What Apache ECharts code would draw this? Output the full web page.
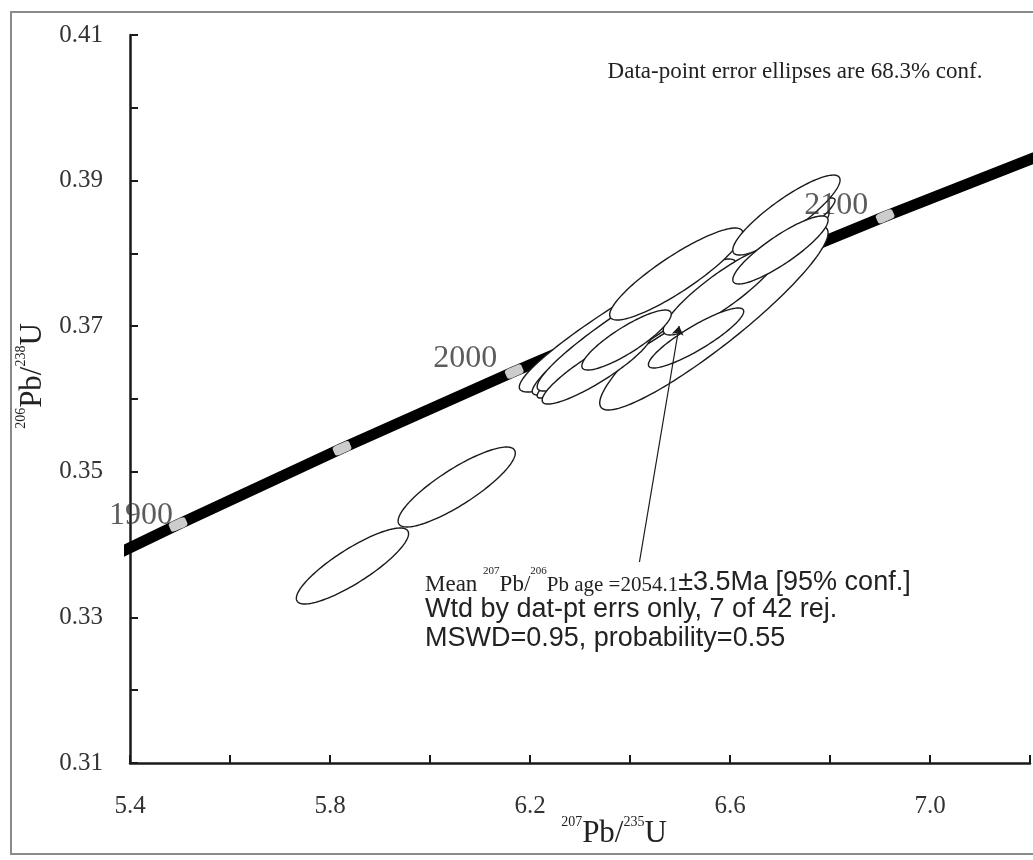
<!DOCTYPE html>
<html>
<head>
<meta charset="utf-8">
<script src="https://cdn.jsdelivr.net/npm/echarts@6/dist/echarts.min.js"></script>
<style>
html,body{margin:0;padding:0;background:#fff;}
#chart{width:1033px;height:860px;}
</style>
</head>
<body>
<div id="chart"></div>
<script>
// ---- Data ----
// Concordia curve nodes (age in Ma, 207Pb/235U, 206Pb/238U)
const concordiaAge = [1850, 1900, 1950, 2000, 2050, 2100, 2150];
const concordiaX   = [5.1841, 5.4962, 5.8241, 6.1685, 6.5303, 6.9103, 7.3097];
const concordiaY   = [0.33240, 0.34277, 0.35323, 0.36377, 0.37438, 0.38509, 0.39587];
// Age tick marks on the concordia
const markAge   = [1900, 1950, 2000, 2050, 2100];
const markX     = [5.4962, 5.8241, 6.1685, 6.5303, 6.9103];
const markY     = [0.34277, 0.35323, 0.36377, 0.37438, 0.38509];
const markLabel = ['1900', '', '2000', '', '2100'];
// Error ellipses: centre x, centre y, half-extent x, half-extent y, correlation
const ellCX  = [5.8449, 6.0534, 6.4884, 6.5678, 6.4924, 6.5122, 6.4129, 6.3335, 6.4924, 6.5857, 6.7128, 6.7009, 6.5321, 6.3931];
const ellCY  = [0.33706, 0.34791, 0.37360, 0.37113, 0.37360, 0.37387, 0.37016, 0.36426, 0.37717, 0.37497, 0.38527, 0.38047, 0.36838, 0.36810];
const ellSX  = [0.1122, 0.1172, 0.3098, 0.2284, 0.2880, 0.2979, 0.1986, 0.1092, 0.1331, 0.1192, 0.1073, 0.0953, 0.0953, 0.0894];
const ellSY  = [0.00522, 0.00549, 0.01264, 0.01264, 0.01305, 0.01374, 0.00907, 0.00495, 0.00632, 0.00618, 0.00549, 0.00467, 0.00412, 0.00412];
const ellRho = [0.85, 0.85, 0.946, 0.924, 0.962, 0.977, 0.934, 0.891, 0.887, 0.888, 0.875, 0.872, 0.887, 0.863];
// Arrow from annotation to mean
const arrowFrom = [6.4189, 0.33761];
const arrowTo   = [6.4983, 0.37003];
// Axis ticks
const xMin = 5.4, xMax = 7.2, xStep = 0.2;
const yMin = 0.31, yMax = 0.41, yStep = 0.01;
const xTickLabels = ['5.4', '5.8', '6.2', '6.6', '7.0'];
const yTickLabels = ['0.31', '0.33', '0.35', '0.37', '0.39', '0.41'];

// ---- Styles ----
const SERIF = "'Liberation Serif','Times New Roman',serif";
const SANS = "'Liberation Sans',Arial,sans-serif";
const markLabelOffset = [[12, -9], [0, 0], [0, -13], [0, 0], [0, -11]];

const chart = echarts.init(document.getElementById('chart'), null, {renderer: 'canvas'});

const concordiaData = concordiaX.map((x, i) => [x, concordiaY[i]]);
const markData = markX.map((x, i) => [x, markY[i]]);
const markLabelData = markX.map((x, i) => ({
  value: [x, markY[i]], name: markLabel[i],
  label: {offset: markLabelOffset[i]}
}));
const ellData = ellCX.map((c, i) => [c, ellCY[i], ellSX[i], ellSY[i], ellRho[i]]);

function renderEllipse(params, api) {
  const cx = api.value(0), cy = api.value(1), sx = api.value(2), sy = api.value(3), r = api.value(4);
  const k = Math.sqrt(1 - r * r);
  const pts = [];
  const n = 140;
  for (let i = 0; i < n; i++) {
    const t = i / n * 2 * Math.PI;
    const x = cx + sx * Math.cos(t);
    const y = cy + sy * (r * Math.cos(t) + k * Math.sin(t));
    pts.push(api.coord([x, y]));
  }
  return {
    type: 'polygon',
    shape: {points: pts},
    style: {fill: '#ffffff', stroke: '#1a1a1a', lineWidth: 1.4}
  };
}

const option = {
  backgroundColor: '#ffffff',
  animation: false,
  grid: {left: 130, top: 35, width: 907, height: 728, containLabel: false},
  xAxis: {
    type: 'value', min: xMin, max: xMax, interval: xStep,
    splitLine: {show: false},
    axisLine: {onZero: false, lineStyle: {color: '#1a1a1a', width: 2.5}},
    axisTick: {inside: true, length: 8, lineStyle: {color: '#1a1a1a', width: 2}},
    axisLabel: {
      margin: 31, color: '#333', fontFamily: SERIF, fontSize: 25,
      formatter: v => { const s = v.toFixed(1); return xTickLabels.indexOf(s) >= 0 ? s : ''; }
    }
  },
  yAxis: {
    type: 'value', min: yMin, max: yMax, interval: yStep,
    splitLine: {show: false},
    axisLine: {onZero: false, lineStyle: {color: '#1a1a1a', width: 2.5}},
    axisTick: {inside: true, length: 8, lineStyle: {color: '#1a1a1a', width: 2}},
    axisLabel: {
      margin: 27, color: '#333', fontFamily: SERIF, fontSize: 25,
      formatter: v => { const s = v.toFixed(2); return yTickLabels.indexOf(s) >= 0 ? s : ''; }
    }
  },
  series: [
    {
      type: 'line', data: concordiaData, showSymbol: false, clip: true, z: 1,
      lineStyle: {color: '#000', width: 11}, silent: true
    },
    {
      type: 'scatter', data: markData, z: 2, symbol: 'roundRect', symbolSize: [18, 10], symbolRotate: 24,
      itemStyle: {color: '#ffffff'}, silent: true
    },
    {
      type: 'custom', data: ellData, renderItem: renderEllipse, z: 3,
      encode: {x: 0, y: 1}, silent: true
    },
    {
      type: 'scatter', data: markLabelData, z: 5, symbol: 'circle', symbolSize: 2, silent: true,
      itemStyle: {color: 'rgba(0,0,0,0)'},
      label: {
        show: true, position: 'left', distance: 16,
        formatter: p => p.name, fontFamily: SERIF, fontSize: 32, color: '#333'
      }
    },
    {
      type: 'lines', coordinateSystem: 'cartesian2d', z: 4,
      data: [{coords: [arrowFrom, arrowTo]}],
      symbol: ['none', 'arrow'], symbolSize: 9,
      lineStyle: {color: '#1a1a1a', width: 1.2, opacity: 1}
    }
  ],
  graphic: [
    {type: 'rect', z: 100, shape: {x: 11, y: 12, width: 1040, height: 842},
     style: {fill: 'none', stroke: '#8a8a8a', lineWidth: 2}},
    {type: 'text', x: 795, y: 72, z: 100,
     style: {text: 'Data-point error ellipses are 68.3% conf.', fontFamily: SERIF, fontSize: 23,
             fill: '#222', align: 'center', verticalAlign: 'middle'}},
    {type: 'text', x: 425, y: 581, z: 100,
     style: {
       text: '{m|Mean }{s|207}{m|Pb/}{s|206}{n|Pb age =2054.1}{a|±3.5Ma [95% conf.]}',
       align: 'left', verticalAlign: 'middle', fill: '#222',
       rich: {
         m: {fontFamily: SERIF, fontSize: 23, lineHeight: 30, verticalAlign: 'bottom', fill: '#222'},
         n: {fontFamily: SERIF, fontSize: 21, lineHeight: 30, verticalAlign: 'bottom', fill: '#222'},
         s: {fontFamily: SERIF, fontSize: 11, lineHeight: 20, verticalAlign: 'top', fill: '#222'},
         a: {fontFamily: SANS, fontSize: 27, lineHeight: 30, verticalAlign: 'bottom', fill: '#222'}
       }
     }},
    {type: 'text', x: 425, y: 610, z: 100,
     style: {text: 'Wtd by dat-pt errs only, 7 of 42 rej.', fontFamily: SANS, fontSize: 27,
             fill: '#222', align: 'left', verticalAlign: 'middle'}},
    {type: 'text', x: 425, y: 639, z: 100,
     style: {text: 'MSWD=0.95, probability=0.55', fontFamily: SANS, fontSize: 27,
             fill: '#222', align: 'left', verticalAlign: 'middle'}},
    {type: 'text', x: 614, y: 832, z: 100,
     style: {
       text: '{s|207}{b|Pb/}{s|235}{b|U}', align: 'center', verticalAlign: 'middle',
       rich: {
         b: {fontFamily: SERIF, fontSize: 31, lineHeight: 34, verticalAlign: 'bottom', fill: '#222'},
         s: {fontFamily: SERIF, fontSize: 14, lineHeight: 18, verticalAlign: 'top', fill: '#222'}
       }
     }},
    {type: 'text', x: 31, y: 376, z: 100, rotation: Math.PI / 2,
     style: {
       text: '{s|206}{b|Pb/}{s|238}{b|U}', align: 'center', verticalAlign: 'middle',
       rich: {
         b: {fontFamily: SERIF, fontSize: 31, lineHeight: 34, verticalAlign: 'bottom', fill: '#222'},
         s: {fontFamily: SERIF, fontSize: 14, lineHeight: 18, verticalAlign: 'top', fill: '#222'}
       }
     }}
  ]
};
chart.setOption(option);
</script>
</body>
</html>
